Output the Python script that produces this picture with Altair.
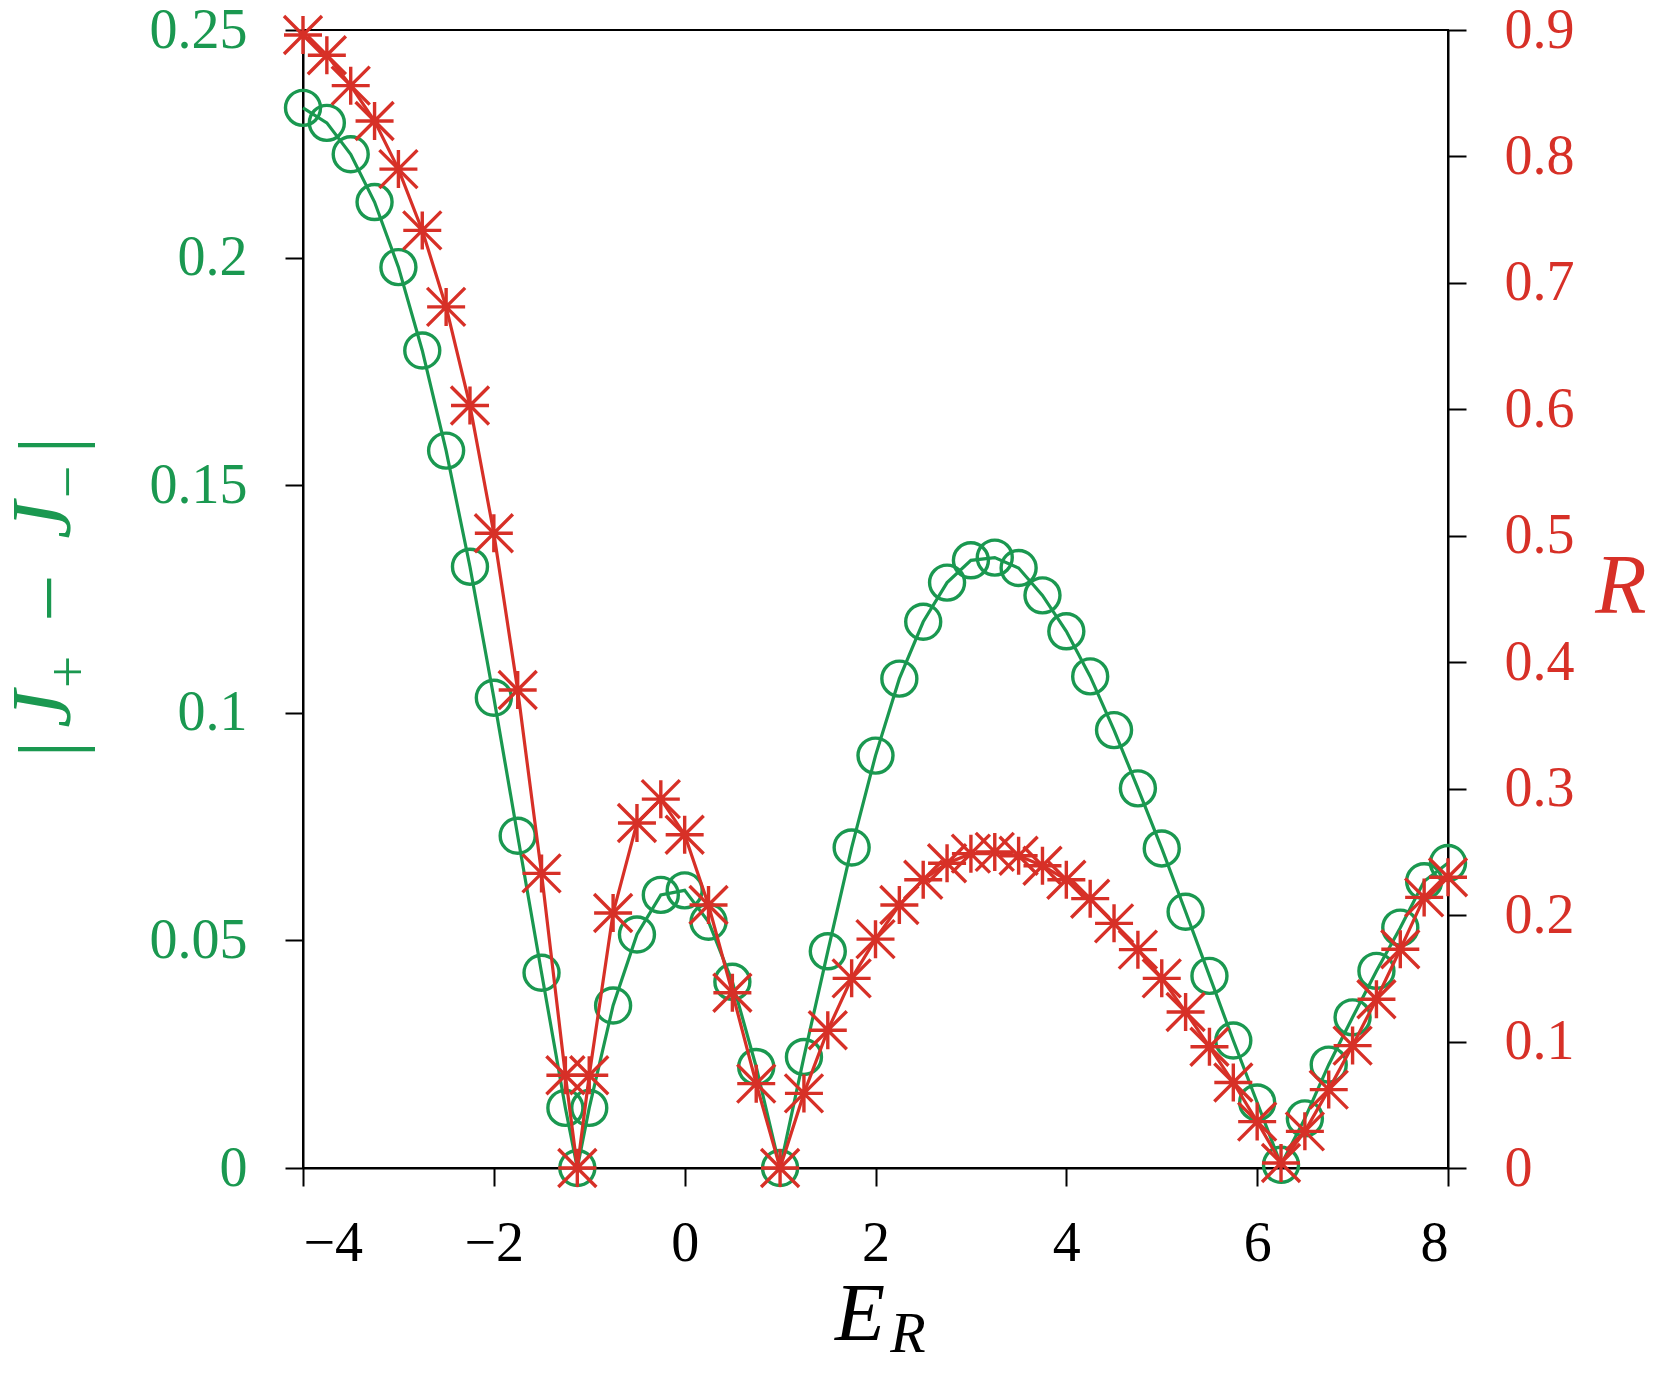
import altair as alt
import pandas as pd

# ---- data ----
E_R = [-4.0, -3.75, -3.5, -3.25, -3.0, -2.75, -2.5, -2.25, -2.0, -1.75, -1.5, -1.25,
       -1.125, -1.0, -0.75, -0.5, -0.25, 0.0, 0.25, 0.5, 0.75, 1.0, 1.25, 1.5, 1.75,
       2.0, 2.25, 2.5, 2.75, 3.0, 3.25, 3.5, 3.75, 4.0, 4.25, 4.5, 4.75, 5.0, 5.25,
       5.5, 5.75, 6.0, 6.25, 6.5, 6.75, 7.0, 7.25, 7.5, 7.75, 8.0]

J_diff = [0.2329, 0.2296, 0.2227, 0.2122, 0.1979, 0.1796, 0.1576, 0.1321, 0.1033,
          0.0730, 0.0429, 0.0132, 0.0, 0.0132, 0.0357, 0.0513, 0.0600, 0.0610,
          0.0541, 0.0409, 0.0222, 0.0, 0.0244, 0.0476, 0.0704, 0.0906, 0.1075,
          0.1200, 0.1286, 0.1335, 0.1341, 0.1318, 0.1258, 0.1179, 0.1080, 0.0962,
          0.0834, 0.0702, 0.0563, 0.0422, 0.0280, 0.0144, 0.0007, 0.0109, 0.0227,
          0.0331, 0.0433, 0.0528, 0.0630, 0.0670]

R_vals = [0.896, 0.880, 0.856, 0.828, 0.790, 0.7415, 0.681, 0.603, 0.502, 0.378,
          0.233, 0.0734, 0.0, 0.0734, 0.2017, 0.2728, 0.2917, 0.2636, 0.208, 0.1386,
          0.0667, 0.0, 0.059, 0.109, 0.150, 0.181, 0.208, 0.228, 0.241, 0.2486,
          0.250, 0.247, 0.239, 0.228, 0.213, 0.1935, 0.1727, 0.150, 0.1234, 0.0959,
          0.0676, 0.0367, 0.004, 0.029, 0.062, 0.0968, 0.1335, 0.173, 0.214, 0.230]

x_ticks = [-4, -2, 0, 2, 4, 6, 8]
left_ticks = [0, 0.05, 0.1, 0.15, 0.2, 0.25]
right_ticks = [0, 0.1, 0.2, 0.3, 0.4, 0.5, 0.6, 0.7, 0.8, 0.9]

df = pd.DataFrame({"E": E_R, "J": J_diff, "R": R_vals})

GREEN = "#1a9850"
RED = "#d73027"
FONT = "Liberation Serif"
W, H = 1145, 1138

STAR = "M-1,0L1,0M0,-1L0,1M-1,-1L1,1M-1,1L1,-1"

x_enc = alt.X("E:Q", scale=alt.Scale(domain=[-4, 8], nice=False),
              axis=alt.Axis(values=x_ticks, title=None, labelFontSize=56,
                            labelFont=FONT, labelColor="black", labelPadding=30,
                            tickSize=18, tickWidth=2, tickColor="black",
                            domainColor="black", domainWidth=2, grid=False))

y_left = alt.Y("J:Q", scale=alt.Scale(domain=[0, 0.25], nice=False, zero=True),
               axis=alt.Axis(orient="left", values=left_ticks, format=".2~f", title=None,
                             labelFontSize=56, labelFont=FONT, labelColor=GREEN,
                             labelPadding=38, tickSize=18, tickWidth=2, tickColor="black",
                             domainColor="black", domainWidth=2, grid=False))

y_right = alt.Y("R:Q", scale=alt.Scale(domain=[0, 0.9], nice=False, zero=True),
                axis=alt.Axis(orient="right", values=right_ticks, format=".1~f", title=None,
                              labelFontSize=56, labelFont=FONT, labelColor=RED,
                              labelPadding=38, tickSize=18, tickWidth=2, tickColor="black",
                              domainColor="black", domainWidth=2, grid=False))

base = alt.Chart(df)

green_line = base.mark_line(color=GREEN, strokeWidth=3.2).encode(x=x_enc, y=y_left)
green_pts = base.mark_point(shape="circle", size=1225, filled=False, color=GREEN,
                            strokeWidth=3.4, opacity=1).encode(x=x_enc, y=y_left)
left = alt.layer(green_line, green_pts)

red_line = base.mark_line(color=RED, strokeWidth=3.2).encode(x=x_enc, y=y_right)
red_pts = base.mark_point(shape=STAR, size=1444, filled=False, color=RED,
                          strokeWidth=3.4, opacity=1).encode(x=x_enc, y=y_right)
right = alt.layer(red_line, red_pts)


def label(text, x, y, size, color, angle=0, italic=True):
    props = dict(text=text, font=FONT, fontSize=size, color=color,
                 align="center", baseline="middle")
    if italic:
        props["fontStyle"] = "italic"
    if angle:
        props["angle"] = angle
    return alt.Chart(alt.Data(values=[{}])).mark_text(**props).encode(
        x=alt.value(x), y=alt.value(y))


titles = [
    # left title |J+ - J-| (rotated)
    label("|", -251, 719, 84, GREEN, angle=270, italic=False),
    label("J", -258, 679, 84, GREEN, angle=270),
    label("+", -233, 642, 58, GREEN, angle=270, italic=False),
    label("\u2212", -251, 568, 84, GREEN, angle=270, italic=False),
    label("J", -258, 490, 84, GREEN, angle=270),
    label("\u2212", -233, 452, 58, GREEN, angle=270, italic=False),
    label("|", -251, 415, 84, GREEN, angle=270, italic=False),
    # right title R
    label("R", 1318, 558, 84, RED),
    # bottom title E_R
    label("E", 557, 1285, 82, "black"),
    label("R", 605, 1305, 58, "black"),
]

chart = alt.layer(left, right, *titles).resolve_scale(y="independent").properties(
    width=W, height=H,
    padding={"left": 295, "top": 22, "right": 205, "bottom": 187},
    autosize=alt.AutoSizeParams(type="none"),
).configure_view(stroke="black", strokeWidth=2)

chart.save("out.html", embed_options={"renderer": "svg", "actions": False})
